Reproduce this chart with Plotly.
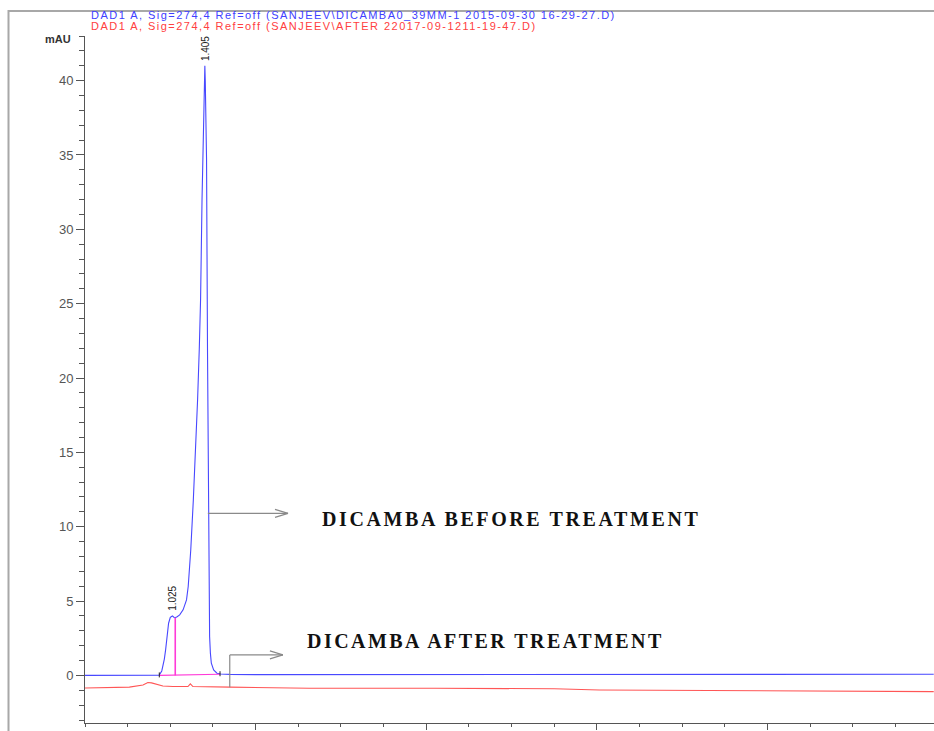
import plotly.graph_objects as go

# --- chromatogram data (retention time in min, signal in mAU) ---
blue_t = [0.00, 0.30, 0.60, 0.80, 0.87, 0.90, 0.913, 0.93, 0.945, 0.96, 0.98, 1.00,
          1.025, 1.045, 1.058, 1.08, 1.11, 1.15, 1.19, 1.21, 1.226, 1.24, 1.27, 1.297,
          1.32, 1.34, 1.355, 1.372, 1.380, 1.392, 1.400, 1.405, 1.410, 1.418, 1.425,
          1.436, 1.446, 1.452, 1.461, 1.47, 1.481, 1.508, 1.547, 1.59, 1.70, 2.00,
          3.00, 3.70, 3.85, 4.00, 5.00, 6.00, 7.00, 8.00, 9.00, 9.95]
blue_mau = [0.00, 0.01, 0.01, 0.01, 0.02, 0.30, 0.59, 1.10, 1.72, 2.61, 3.51, 3.90,
            4.00, 3.90, 3.88, 3.95, 4.07, 4.41, 5.08, 5.98, 7.10, 8.45, 11.8, 15.2,
            18.55, 22.0, 25.3, 32.0, 34.7, 38.0, 40.3, 41.0, 40.0, 37.0, 34.7,
            22.0, 10.85, 7.1, 2.6, 1.5, 0.82, 0.37, 0.15, 0.10, 0.07, 0.05,
            0.05, 0.06, 0.09, 0.06, 0.05, 0.05, 0.06, 0.06, 0.07, 0.08]

red_t = [0.00, 0.30, 0.52, 0.68, 0.737, 0.78, 0.816, 0.913, 1.03, 1.207, 1.235, 1.265,
         1.70, 2.63, 4.10, 5.50, 6.03, 7.00, 7.40, 8.00, 9.50, 9.95]
red_mau = [-0.85, -0.82, -0.79, -0.64, -0.48, -0.50, -0.57, -0.71, -0.75, -0.75, -0.57, -0.75,
           -0.79, -0.86, -0.86, -0.90, -0.98, -1.00, -1.04, -1.06, -1.07, -1.09]

# integration baseline and drop line of the shoulder peak
int_base_t = [0.871, 1.583]
int_base_mau = [0.00, 0.08]
drop_t = [1.058, 1.058]
drop_mau = [0.00, 3.88]

# labelled retention times and apex heights
peak_rt = ["1.025", "1.405"]
peak_height = [4.00, 41.0]

x_tick_vals = [2, 4, 6, 8]
y_tick_vals = [0, 5, 10, 15, 20, 25, 30, 35, 40]

header_blue = "DAD1 A, Sig=274,4 Ref=off (SANJEEV\\DICAMBA0_39MM-1 2015-09-30 16-29-27.D)"
header_red = "DAD1 A, Sig=274,4 Ref=off (SANJEEV\\AFTER 22017-09-1211-19-47.D)"
label_before = "DICAMBA BEFORE TREATMENT"
label_after = "DICAMBA AFTER TREATMENT"

# --- geometry ---
W, H = 934, 731
ML, MR, MT, MB = 85, 0, 36, 8
X_RANGE = [0, 9.953]
Y_RANGE = [-3.2, 43.0]
px_per_x = (W - ML - MR) / (X_RANGE[1] - X_RANGE[0])
px_per_y = (H - MT - MB) / (Y_RANGE[1] - Y_RANGE[0])

AXIS_COL = "#555555"
BLUE = "#4848ff"
RED = "#ff5656"
PINK = "#ff3ad8"
ARROW_COL = "#8a8a8a"

fig = go.Figure()
fig.add_trace(go.Scatter(x=red_t, y=red_mau, mode="lines",
                         line=dict(color=RED, width=1.1), hoverinfo="skip"))
fig.add_trace(go.Scatter(x=blue_t, y=blue_mau, mode="lines",
                         line=dict(color=BLUE, width=1.1), hoverinfo="skip"))
fig.add_trace(go.Scatter(x=int_base_t, y=int_base_mau, mode="lines",
                         line=dict(color=PINK, width=1.2), hoverinfo="skip"))
fig.add_trace(go.Scatter(x=drop_t, y=drop_mau, mode="lines",
                         line=dict(color=PINK, width=1.6), hoverinfo="skip"))

# small black ticks marking the start/end of the integrated region
for t, v in zip(int_base_t, int_base_mau):
    fig.add_shape(type="line", xref="x", yref="y", x0=t, x1=t,
                  y0=v - 2 / px_per_y, y1=v + 3 / px_per_y,
                  line=dict(color="#222222", width=1))

# retention time labels above peak apexes
for rt, h in zip(peak_rt, peak_height):
    fig.add_annotation(x=float(rt), y=h, text=rt, textangle=-90, showarrow=False,
                       xanchor="center", yanchor="bottom", yshift=3,
                       font=dict(family="Liberation Sans, Arial", size=10, color="#222222"))


def arrow(points, head_len=13, head_half=4):
    """Poly-line ending in an open chevron head at its last point (horizontal)."""
    for (xa, ya), (xb, yb) in zip(points[:-1], points[1:]):
        fig.add_shape(type="line", xref="x", yref="y", x0=xa, y0=ya, x1=xb, y1=yb,
                      line=dict(color=ARROW_COL, width=1.2))
    xt, yt = points[-1]
    for s in (1, -1):
        fig.add_shape(type="line", xref="x", yref="y", x0=xt, y0=yt,
                      x1=xt - head_len / px_per_x, y1=yt + s * head_half / px_per_y,
                      line=dict(color=ARROW_COL, width=1.2))


arrow([(1.44, 10.9), (2.38, 10.9)])
arrow([(1.697, -0.80), (1.697, 1.38), (2.32, 1.38)])

serif = "Liberation Serif, Times New Roman, serif"
fig.add_annotation(x=2.76, y=10.55, xanchor="left", yanchor="middle", showarrow=False,
                   text='<span style="letter-spacing:2.6px">' + label_before + "</span>",
                   font=dict(family=serif, size=20, color="#111111", weight="bold"))
fig.add_annotation(x=2.575, y=2.32, xanchor="left", yanchor="middle", showarrow=False,
                   text='<span style="letter-spacing:2.45px">' + label_after + "</span>",
                   font=dict(family=serif, size=20, color="#111111", weight="bold"))


def paper_x(px):
    return (px - ML) / (W - ML - MR)


def paper_y(py):
    return (H - MB - py) / (H - MT - MB)


sans = "Liberation Sans, Arial, sans-serif"
fig.add_annotation(xref="paper", yref="paper", x=paper_x(89), y=paper_y(15.3),
                   xanchor="left", yanchor="middle", showarrow=False,
                   text='<span style="letter-spacing:1.47px">' + header_blue + "</span>",
                   font=dict(family=sans, size=11, color="#4040ff"))
fig.add_annotation(xref="paper", yref="paper", x=paper_x(89), y=paper_y(25.8),
                   xanchor="left", yanchor="middle", showarrow=False,
                   text='<span style="letter-spacing:1.47px">' + header_red + "</span>",
                   font=dict(family=sans, size=11, color="#ff4040"))
fig.add_annotation(xref="paper", yref="paper", x=paper_x(72.7), y=paper_y(39),
                   xanchor="right", yanchor="middle", showarrow=False, text="mAU",
                   font=dict(family=sans, size=11, color="#333333", weight="bold"))

# outer frame around the report page
fig.add_shape(type="rect", xref="paper", yref="paper",
              x0=paper_x(8.5), x1=paper_x(W + 20), y0=paper_y(H + 20), y1=paper_y(11),
              line=dict(color="#a8a8a8", width=2), layer="below")

fig.update_xaxes(range=X_RANGE, showgrid=False, zeroline=False, showline=True,
                 linecolor=AXIS_COL, linewidth=1, ticks="outside", ticklen=6,
                 tickcolor=AXIS_COL, tickvals=x_tick_vals, automargin=False,
                 tickfont=dict(family=sans, size=13, color="#555555"),
                 minor=dict(tick0=0, dtick=0.5, ticks="outside", ticklen=3,
                            tickcolor=AXIS_COL, showgrid=False))
fig.update_yaxes(range=Y_RANGE, showgrid=False, zeroline=False, showline=True,
                 linecolor=AXIS_COL, linewidth=1, ticks="outside", ticklen=8,
                 tickcolor=AXIS_COL, tickvals=y_tick_vals, automargin=False,
                 tickfont=dict(family=sans, size=13, color="#555555"),
                 minor=dict(tick0=0, dtick=1, ticks="outside", ticklen=5,
                            tickcolor=AXIS_COL, showgrid=False))

fig.update_layout(width=W, height=H, margin=dict(l=ML, r=MR, t=MT, b=MB, pad=0),
                  paper_bgcolor="white", plot_bgcolor="white", showlegend=False)

fig.write_html("out.html", config={"displayModeBar": False})
